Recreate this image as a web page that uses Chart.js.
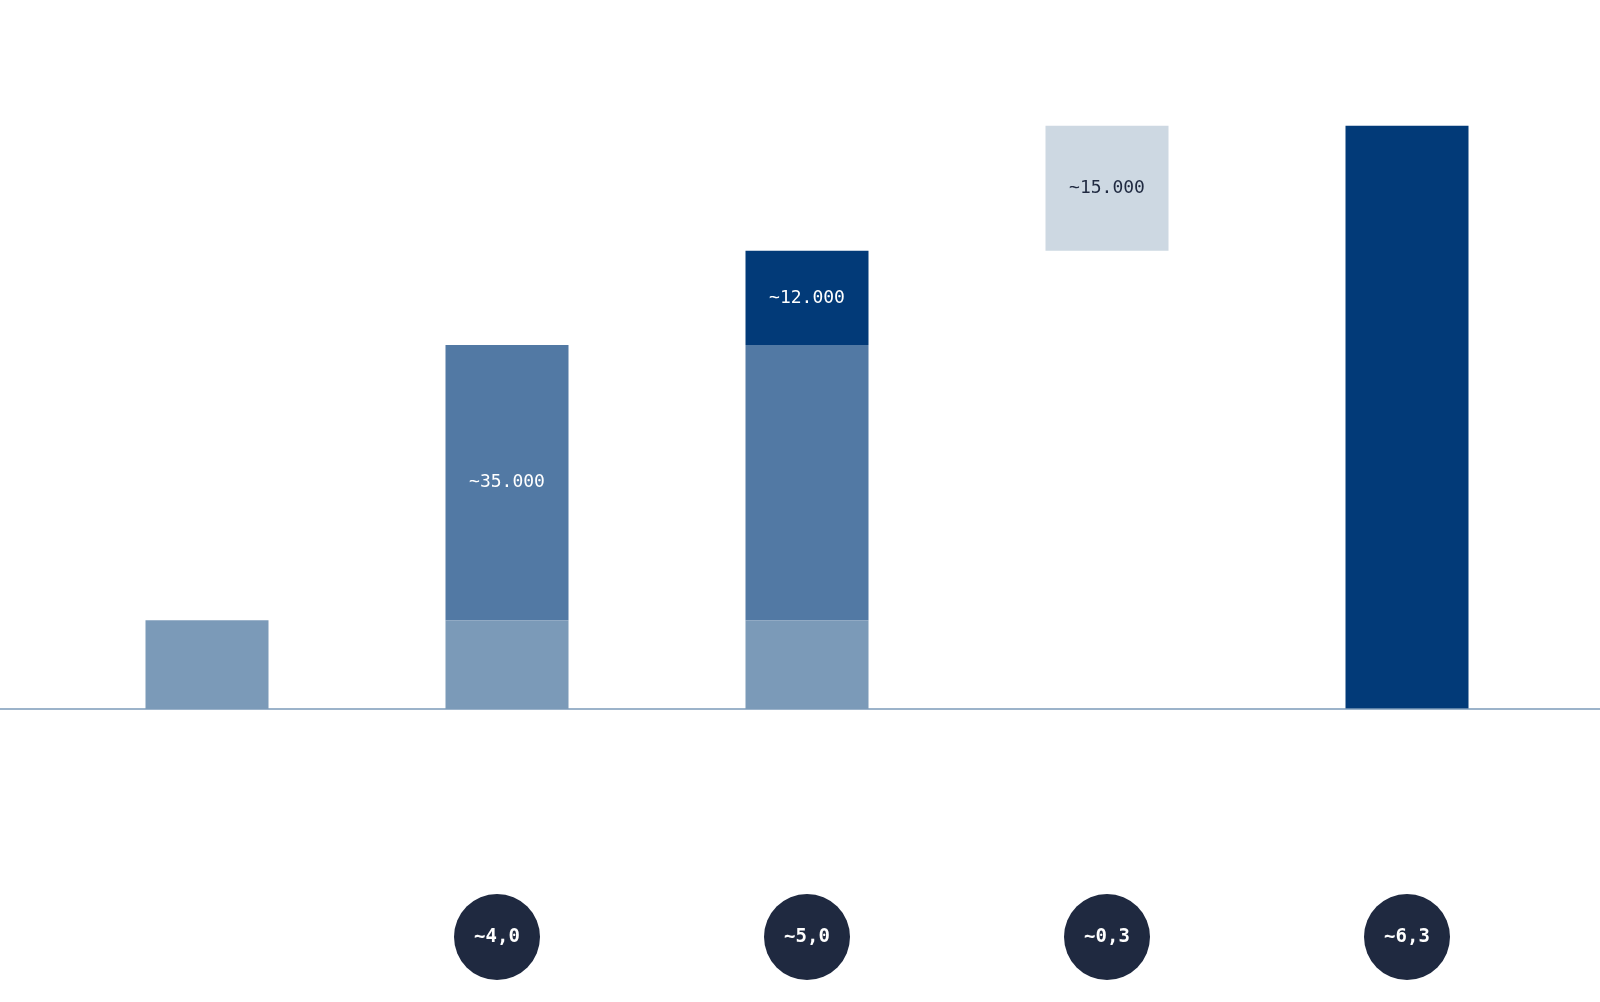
<!DOCTYPE html>
<html>
<head>
<meta charset="utf-8">
<script src="https://cdn.jsdelivr.net/npm/chart.js@4/dist/chart.umd.min.js"></script>
<style>
  html, body { margin: 0; padding: 0; background: #fff; }
  #wrap { width: 1600px; height: 1002px; }
</style>
</head>
<body>
<div id="wrap"><canvas id="c" width="1600" height="1002"></canvas></div>
<script>
// categories (no visible names in the picture)
var categories = ["a", "b", "c", "d", "e"];

// step values
var baseVal = 11300;
var midVal = 35000;
var topVal = 12000;
var extraVal = 15900;
var totalVal = baseVal + midVal + topVal + extraVal;

var baseSeries = [[0, baseVal], [0, baseVal], [0, baseVal], null, null];
var midSeries = [null, [baseVal, baseVal + midVal], [baseVal, baseVal + midVal], null, null];
var darkSeries = [null, null, [baseVal + midVal, baseVal + midVal + topVal], null, [0, totalVal]];
var lightSeries = [null, null, null, [baseVal + midVal + topVal, totalVal], null];

// labels inside the bars: [datasetIndex, categoryIndex, text]
var barLabels = [[1, 1, "~35.000"], [2, 2, "~12.000"], [3, 3, "~15.000"]];
// circle labels under the categories
var circleLabels = [null, "~4,0", "~5,0", "~0,3", "~6,3"];

var extras = {
  id: "extras",
  afterDatasetsDraw: function (chart) {
    var ctx = chart.ctx;
    var y = chart.scales.y;
    var x = chart.scales.x;
    // baseline
    ctx.save();
    ctx.strokeStyle = "#7b9ab8";
    ctx.lineWidth = 1.5;
    ctx.beginPath();
    ctx.moveTo(0, y.getPixelForValue(0));
    ctx.lineTo(chart.width, y.getPixelForValue(0));
    ctx.stroke();

    // labels inside bars
    ctx.font = "18px 'DejaVu Sans Mono'";
    ctx.textAlign = "center";
    ctx.textBaseline = "middle";
    barLabels.forEach(function (l) {
      var el = chart.getDatasetMeta(l[0]).data[l[1]];
      ctx.fillStyle = l[0] === 3 ? "#1f2940" : "#ffffff";
      ctx.fillText(l[2], el.x, (el.y + el.base) / 2);
    });

    // circles
    ctx.font = "bold 19px 'DejaVu Sans Mono'";
    circleLabels.forEach(function (t, i) {
      if (!t) return;
      var cx = x.getPixelForValue(i) - (i === 1 ? 10 : 0);
      ctx.fillStyle = "#1f2940";
      ctx.beginPath();
      ctx.arc(cx, 937, 43, 0, Math.PI * 2);
      ctx.fill();
      ctx.fillStyle = "#ffffff";
      ctx.fillText(t, cx, 937);
    });
    ctx.restore();
  }
};

function ds(data, color) {
  return { data: data, backgroundColor: color, borderWidth: 0, barPercentage: 0.41, categoryPercentage: 1 };
}

new Chart(document.getElementById("c"), {
  type: "bar",
  data: {
    labels: categories,
    datasets: [
      ds(baseSeries, "#7b9ab8"),
      ds(midSeries, "#5279a4"),
      ds(darkSeries, "#023a78"),
      ds(lightSeries, "#cdd8e2")
    ]
  },
  options: {
    responsive: false,
    animation: false,
    layout: { padding: { left: 57, right: 43, top: 0, bottom: 293 } },
    plugins: { legend: { display: false }, tooltip: { enabled: false } },
    scales: {
      x: { stacked: true, display: false, grid: { display: false } },
      y: { stacked: false, display: false, min: 0, max: 90200 }
    }
  },
  plugins: [extras]
});
</script>
</body>
</html>
